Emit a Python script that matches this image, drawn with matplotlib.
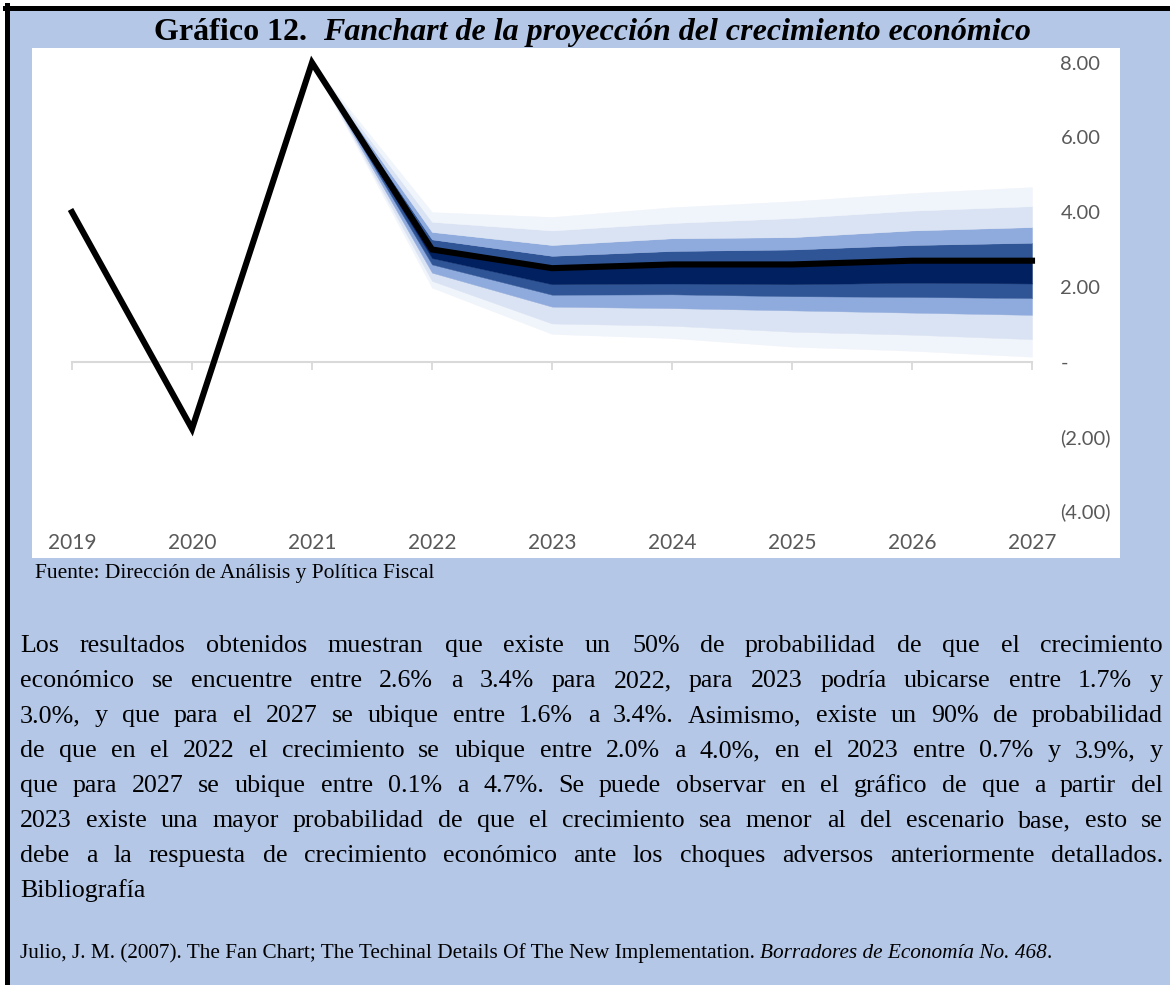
import matplotlib
matplotlib.use("Agg")
import matplotlib.pyplot as plt
from matplotlib.patches import Rectangle
from matplotlib.lines import Line2D
from matplotlib.font_manager import FontProperties

# ---------------- data ----------------
years = [2019, 2020, 2021, 2022, 2023, 2024, 2025, 2026, 2027]
crecimiento = [4.0, -1.8, 8.0, 3.0, 2.5, 2.6, 2.6, 2.7, 2.7]

fan_years = [2021, 2022, 2023, 2024, 2025, 2026, 2027]
# lower band edges (from the outermost to the innermost)
inf_90 = [8.0, 1.98, 0.74, 0.63, 0.40, 0.29, 0.13]
inf_80 = [8.0, 2.16, 1.02, 0.96, 0.80, 0.72, 0.60]
inf_70 = [8.0, 2.38, 1.47, 1.43, 1.37, 1.31, 1.25]
inf_60 = [8.0, 2.60, 1.79, 1.80, 1.75, 1.73, 1.70]
inf_50 = [8.0, 2.77, 2.07, 2.09, 2.07, 2.11, 2.09]
central = [8.0, 3.00, 2.50, 2.60, 2.60, 2.70, 2.70]
# upper band edges (from the innermost to the outermost)
sup_60 = [8.0, 3.27, 2.83, 2.96, 3.00, 3.12, 3.18]
sup_70 = [8.0, 3.47, 3.12, 3.30, 3.33, 3.51, 3.60]
sup_80 = [8.0, 3.74, 3.51, 3.71, 3.84, 4.04, 4.16]
sup_90 = [8.0, 4.00, 3.87, 4.13, 4.29, 4.51, 4.67]

y_ticks = [-4, -2, 0, 2, 4, 6, 8]

title_bold = "Gráfico 12."
title_italic = "Fanchart de la proyección del crecimiento económico"
fuente = "Fuente: Dirección de Análisis y Política Fiscal"
parrafo = [
    "Los resultados obtenidos muestran que existe un 50% de probabilidad de que el crecimiento",
    "económico se encuentre entre 2.6% a 3.4% para 2022, para 2023 podría ubicarse entre 1.7% y",
    "3.0%, y que para el 2027 se ubique entre 1.6% a 3.4%. Asimismo, existe un 90% de probabilidad",
    "de que en el 2022 el crecimiento se ubique entre 2.0% a 4.0%, en el 2023 entre 0.7% y 3.9%, y",
    "que para 2027 se ubique entre 0.1% a 4.7%. Se puede observar en el gráfico de que a partir del",
    "2023 existe una mayor probabilidad de que el crecimiento sea menor al del escenario base, esto se",
    "debe a la respuesta de crecimiento económico ante los choques adversos anteriormente detallados.",
]
biblio_title = "Bibliografía"
cita_regular = "Julio, J. M. (2007). The Fan Chart; The Techinal Details Of The New Implementation."
cita_italic = "Borradores de Economía No. 468"
cita_end = "."

# ---------------- style ----------------
W, H = 1170, 985
BG = "#B4C7E7"
C_VL = "#F0F4FB"
C_L = "#DAE3F3"
C_M = "#8FAADC"
C_D = "#2F5597"
C_N = "#002060"
SERIF = "Liberation Serif"
SANS = "Lato"

fig = plt.figure(figsize=(W / 100, H / 100), dpi=100)
fig.patch.set_facecolor("white")


def fx(px):
    return px / W


def fy(py):
    return 1 - py / H


# background panel, border lines, white plot area
fig.patches.append(Rectangle((fx(10), 0), 1 - fx(10), fy(10), transform=fig.transFigure,
                             facecolor=BG, edgecolor="none", zorder=-3))
fig.lines.append(Line2D([fx(5), 1], [fy(7.5), fy(7.5)], transform=fig.transFigure,
                        color="black", lw=3.6, zorder=-2))
fig.lines.append(Line2D([fx(7), fx(7)], [0, fy(5)], transform=fig.transFigure,
                        color="black", lw=3.6, zorder=-2))
fig.patches.append(Rectangle((fx(32), fy(558)), fx(1120) - fx(32), fy(48) - fy(558),
                             transform=fig.transFigure, facecolor="white",
                             edgecolor="none", zorder=-2))

# axes placement
ax = fig.add_axes([fx(72), fy(511), fx(1032) - fx(72), fy(62.7) - fy(511)])
ax.set_zorder(2)
ax.set_facecolor("none")
ax.set_xlim(years[0], years[-1])
ax.set_ylim(min(y_ticks), max(y_ticks))

# fan bands
bands = [
    (inf_90, inf_80, C_VL), (inf_80, inf_70, C_L), (inf_70, inf_60, C_M),
    (inf_60, inf_50, C_D), (inf_50, central, C_N),
    (central, sup_60, C_D), (sup_60, sup_70, C_M), (sup_70, sup_80, C_L),
    (sup_80, sup_90, C_VL),
]
for lo, hi, c in bands:
    ax.fill_between(fan_years, lo, hi, color=c, linewidth=0.3, edgecolor=c, zorder=2)

ax.plot(years, crecimiento, color="black", lw=4.4, zorder=5, clip_on=False,
        solid_joinstyle="miter")

for s in ax.spines.values():
    s.set_visible(False)

# y axis on right
ax.yaxis.tick_right()
ax.set_yticks(y_ticks)


def yfmt(v):
    if v > 0:
        return "%.2f" % v
    if v == 0:
        return "-"
    return "(%.2f)" % (-v)


ax.set_yticklabels([yfmt(v) for v in y_ticks])
ax.tick_params(axis="y", length=0, pad=20.5, labelsize=14.5, labelcolor="#595959")
for lab in ax.get_yticklabels():
    lab.set_fontfamily(SANS)

# x labels at bottom
ax.set_xticks(years)
ax.set_xticklabels([str(y) for y in years])
ax.tick_params(axis="x", length=0, pad=15.5, labelsize=15, labelcolor="#595959")
for lab in ax.get_xticklabels():
    lab.set_fontfamily(SANS)

# zero axis line with ticks
ylo, yhi = ax.get_ylim()
zero_loc = (0 - ylo) / (yhi - ylo)
sec = ax.secondary_xaxis(zero_loc)
sec.set_xticks(years)
sec.tick_params(axis="x", direction="out", length=5.5, width=1.3, color="#D9D9D9",
                labelbottom=False)
sec.spines["bottom"].set_color("#D9D9D9")
sec.spines["bottom"].set_linewidth(1.5)
sec.set_zorder(1)

# ---------------- text ----------------
renderer = fig.canvas.get_renderer()


def fp(size, weight="normal", style="normal"):
    return FontProperties(family=SERIF, size=size, weight=weight, style=style)


def width_of(s, prop):
    w, h, d = renderer.get_text_width_height_descent(s, prop, ismath=False)
    return w


def space_w(prop):
    return width_of("a a", prop) - width_of("aa", prop)


# title
p_b = fp(23, weight="bold")
p_i = fp(23, weight="bold", style="italic")
wb = width_of(title_bold, p_b)
wi = width_of(title_italic, p_i)
gap = 2 * space_w(p_b)
x0 = 592 - (wb + gap + wi) / 2
fig.text(fx(x0), fy(40), title_bold, va="baseline", ha="left", fontproperties=p_b)
fig.text(fx(x0 + wb + gap), fy(40), title_italic, va="baseline", ha="left", fontproperties=p_i)

# fuente
fig.text(fx(35), fy(578), fuente, va="baseline", ha="left", fontproperties=fp(15.45))

# justified paragraph
p_par = fp(18.7)
xl, xr = 20, 1163
base = 652
for i, line in enumerate(parrafo):
    words = line.split(" ")
    ws = [width_of(w, p_par) for w in words]
    g = (xr - xl - sum(ws)) / (len(words) - 1)
    x = xl
    for w, wd in zip(words, ws):
        fig.text(fx(round(x)), fy(base + 35 * i), w, va="baseline", ha="left",
                 fontproperties=p_par)
        x += wd + g
fig.text(fx(xl), fy(base + 35 * len(parrafo)), biblio_title, va="baseline", ha="left",
         fontproperties=p_par)

# citation
p_c = fp(15.35)
p_ci = fp(15.35, style="italic")
x = 20
fig.text(fx(x), fy(958), cita_regular, va="baseline", ha="left", fontproperties=p_c)
x += width_of(cita_regular, p_c) + space_w(p_c)
fig.text(fx(x), fy(958), cita_italic, va="baseline", ha="left", fontproperties=p_ci)
x += width_of(cita_italic, p_ci)
fig.text(fx(x), fy(958), cita_end, va="baseline", ha="left", fontproperties=p_c)

fig.savefig("out.png", dpi=100, facecolor=fig.get_facecolor())
